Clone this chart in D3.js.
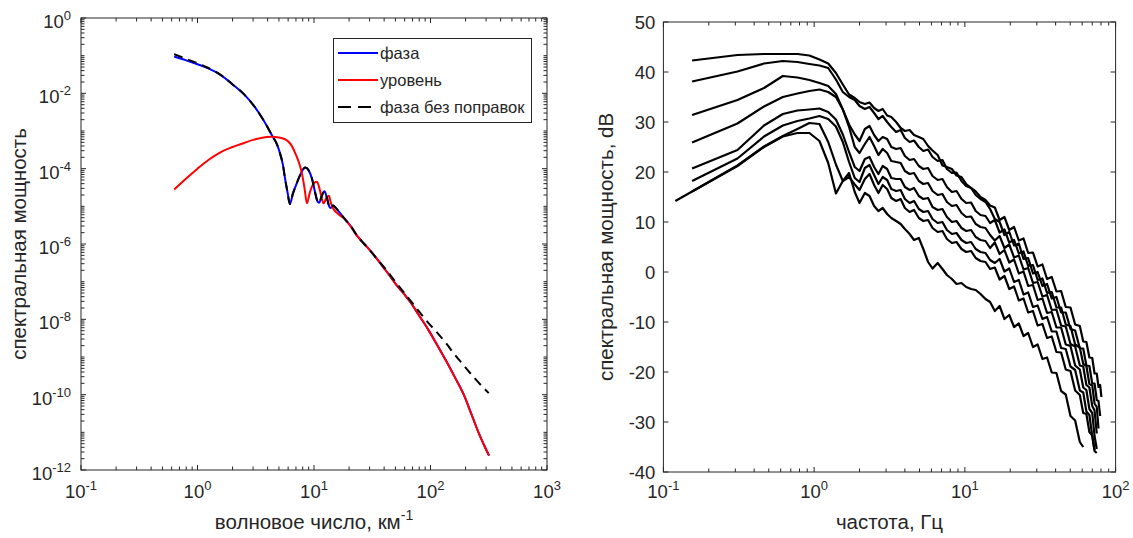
<!DOCTYPE html>
<html>
<head>
<meta charset="utf-8">
<script src="https://cdn.jsdelivr.net/npm/d3@7"></script>
<style>
  body { margin: 0; background: #fff; }
  text { font-family: "Liberation Sans", Arial, Helvetica, sans-serif; fill: #262626; }
</style>
</head>
<body>
<svg id="chart" width="1133" height="538"></svg>
<script>
// ---------------- LEFT PANEL DATA ----------------
const kPhase = [0.63, 0.8, 1.0, 1.24, 1.6, 1.97, 2.5, 3.11, 3.7, 4.43, 4.8, 5.1, 5.4, 5.64, 5.95, 6.2, 6.6, 7.2, 7.8, 8.4, 9.0, 9.6, 10.2, 10.8, 11.1, 11.6, 12.3, 12.9, 13.5, 13.9, 14.6, 15.4, 16.5, 18.5, 21, 23.3, 27, 30, 35.5, 42, 50.5, 60, 67, 80, 95, 115, 135, 160, 193, 225, 258, 290, 318];
const pPhase = [9.5e-2, 7.5e-2, 5.9e-2, 4.6e-2, 3.0e-2, 1.8e-2, 9.5e-3, 4.3e-3, 1.9e-3, 7e-4, 4.5e-4, 2.6e-4, 1.3e-4, 5.5e-5, 2.2e-5, 1.15e-5, 2.2e-5, 4.5e-5, 8e-5, 1.07e-4, 9e-5, 5.5e-5, 2.4e-5, 1.3e-5, 1.25e-5, 1.8e-5, 2.5e-5, 1.7e-5, 1.0e-5, 9e-6, 1.05e-5, 9e-6, 7e-6, 4.5e-6, 2.8e-6, 1.7e-6, 1.0e-6, 7e-7, 3.7e-7, 1.86e-7, 8.5e-8, 4.5e-8, 2.9e-8, 1.25e-8, 5.5e-9, 2e-9, 8.3e-10, 3.1e-10, 1.0e-10, 3e-11, 1.0e-11, 4.4e-12, 2.4e-12];

const kLevel = [0.63, 0.8, 1.0, 1.24, 1.6, 1.97, 2.5, 3.0, 3.5, 4.3, 5.0, 5.67, 6.3, 6.9, 7.4, 7.87, 8.3, 8.69, 9.2, 9.9, 10.6, 11.3, 12.05, 12.7, 13.4, 14.0, 14.7, 15.9, 18.5, 23.3, 30, 35.5, 42, 50.5, 60, 67, 80, 95, 115, 135, 160, 193, 225, 258, 290, 318];
const pLevel = [2.8e-5, 5.5e-5, 1.0e-4, 1.7e-4, 2.8e-4, 3.7e-4, 4.8e-4, 5.8e-4, 6.5e-4, 7.0e-4, 6.7e-4, 6.0e-4, 4.5e-4, 2.6e-4, 1.5e-4, 7.6e-5, 3e-5, 1.2e-5, 2.3e-5, 4.0e-5, 4.5e-5, 2.5e-5, 1.2e-5, 1.6e-5, 1.9e-5, 1.2e-5, 8.5e-6, 6.5e-6, 4.5e-6, 1.7e-6, 7e-7, 3.7e-7, 1.86e-7, 8.5e-8, 4.5e-8, 2.9e-8, 1.25e-8, 5.5e-9, 2e-9, 8.3e-10, 3.1e-10, 1.0e-10, 3e-11, 1.0e-11, 4.4e-12, 2.4e-12];

const kRaw = [0.63, 0.8, 1.0, 1.24, 1.6, 1.97, 2.5, 3.11, 3.7, 4.43, 4.8, 5.1, 5.4, 5.64, 5.95, 6.2, 6.6, 7.2, 7.8, 8.4, 9.0, 9.6, 10.2, 10.8, 11.1, 11.6, 12.3, 12.9, 13.5, 13.9, 14.6, 15.4, 16.5, 18.5, 21, 23.3, 27, 30, 35.5, 42, 50.5, 60, 67, 80, 95, 115, 135, 160, 193, 240, 316];
const pRaw = [1.1e-1, 8.2e-2, 6.3e-2, 4.7e-2, 3.0e-2, 1.8e-2, 9.5e-3, 4.3e-3, 1.9e-3, 7e-4, 4.5e-4, 2.6e-4, 1.3e-4, 5.5e-5, 2.2e-5, 1.15e-5, 2.2e-5, 4.5e-5, 8e-5, 1.07e-4, 9e-5, 5.5e-5, 2.4e-5, 1.3e-5, 1.25e-5, 1.8e-5, 2.5e-5, 1.7e-5, 1.0e-5, 9e-6, 1.05e-5, 9e-6, 7e-6, 4.5e-6, 2.8e-6, 1.7e-6, 1.0e-6, 7e-7, 3.7e-7, 2.0e-7, 9.5e-8, 4.9e-8, 3.2e-8, 1.6e-8, 8.3e-9, 4.3e-9, 2.4e-9, 1.2e-9, 6e-10, 2.7e-10, 1.1e-10];

const legendLabels = ["фаза", "уровень", "фаза без поправок"];
const leftYTickExp = [0, -2, -4, -6, -8, -10, -12];
const leftXTickExp = [-1, 0, 1, 2, 3];

// ---------------- RIGHT PANEL DATA ----------------
const freq = [0.12, 0.155, 0.31, 0.465, 0.62, 0.775, 0.93, 1.085, 1.24, 1.395, 1.55, 1.705, 1.86,
  2.0, 2.17, 2.33, 2.5, 2.67, 2.85, 3.05, 3.25, 3.5, 3.75, 4.0, 4.3, 4.6, 4.95, 5.3, 5.7, 6.1, 6.6, 7.1, 7.6, 8.2, 8.8, 9.5, 10.2, 11, 11.8, 12.7, 13.7, 14.7,
  15.8, 17, 18.3, 19.7, 21.2, 22.8, 24.5, 26.3, 28.3, 30.4, 32.7, 35.1, 37.7, 40.5, 43.5, 46.7, 50.2, 53.9, 57.9, 61, 64, 67, 70, 72.5, 75, 77, 79, 80.5];

const db1 = [null, 42.3, 43.4, 43.6, 43.6, 43.6, 43.3, 42.5, 41.7, 39.8, 37.5, 35.5, 34.8,
  34.0, 33.6, 33.9, 32.8, 32.2, 32.6, 31.3, 31.0, 30.0, 28.8, 28.2, 28.4, 27.4, 27.0, 26.6, 25.2, 24.3, 23.4, 21.3, 21.0, 20.6, 19.3, 19.0, 17.6, 16.8, 16.1, 15.0, 14.4, 13.3,
  12.9, 10.4, 11.0, 8.4, 9.0, 6.3, 6.7, 3.8, 3.9, 1.1, 1.5, -1.4, -1.0, -3.9, -3.8, -7.0, -7.1, -10.5, -10.8, -13.9, -14.0, -17.1, -17.2, -20.3, -20.3, -23.0, -22.6, -25.0];
const db2 = [null, 38.1, 40.1, 41.7, 42.2, 42.0, 41.6, 41.3, 40.8, 38.5, 36.0, 35.0, 34.4,
  33.2, 32.6, 33.0, 31.8, 30.6, 31.2, 30.0, 29.0, 28.0, 28.4, 26.8, 26.0, 26.3, 25.0, 24.2, 24.5, 23.0, 22.2, 22.4, 20.6, 19.8, 19.9, 18.2, 17.2, 16.8, 15.4, 14.6, 14.0, 12.6,
  10.6, 10.0, 7.4, 8.0, 5.3, 5.7, 2.6, 2.8, -0.3, 0.0, -2.8, -2.4, -5.3, -5.0, -8.1, -8.1, -11.4, -11.7, -15.3, -15.3, -18.7, -18.8, -22.3, -22.3, -25.6, -25.8, -28.8, null];
const db3 = [null, 31.4, 34.4, 36.8, 39.2, 38.9, 38.4, 37.8, 37.2, 35.6, 32.5, 29.5, 27.5,
  26.2, 28.6, 29.2, 27.4, 26.2, 27.0, 26.6, 25.0, 24.6, 24.8, 23.2, 22.4, 22.6, 21.2, 20.6, 20.8, 19.2, 18.4, 18.6, 17.0, 16.0, 16.2, 14.6, 13.8, 13.9, 12.2, 11.4, 11.2, 9.8,
  10.4, 7.9, 8.5, 5.9, 6.4, 3.7, 4.1, 1.2, 1.4, -1.6, -1.3, -4.2, -4.0, -7.1, -7.1, -10.5, -10.8, -14.5, -15.1, -18.4, -18.8, -22.4, -22.7, -26.3, -27.0, -31.3, null, null];
const db4 = [null, 25.9, 29.7, 33.1, 35.0, 35.7, 36.2, 36.5, 36.0, 35.0, 32.5, 29.0, 25.0,
  23.8, 25.6, 27.0, 25.2, 23.4, 24.6, 23.8, 22.2, 22.0, 21.8, 20.2, 19.6, 19.8, 18.2, 17.6, 17.8, 16.2, 15.4, 15.6, 14.0, 13.2, 13.4, 11.8, 11.0, 11.1, 9.6, 9.0, 8.8, 7.4,
  6.3, 7.2, 4.8, 5.5, 2.9, 3.3, 0.5, 0.8, -2.2, -2.0, -4.9, -4.6, -7.6, -7.5, -10.7, -10.9, -14.4, -14.9, -18.7, -18.9, -22.6, -23.1, -26.8, -27.7, -32.3, null, null, null];
const db5 = [null, 20.7, 24.4, 29.3, 31.6, 32.3, 32.5, 32.7, 32.0, 30.5, 27.5, 24.0, 21.0,
  20.2, 22.6, 23.0, 21.0, 19.6, 21.2, 20.6, 18.8, 18.6, 18.6, 17.0, 16.4, 16.8, 15.2, 14.6, 14.8, 13.0, 12.4, 12.6, 11.0, 10.0, 10.2, 8.8, 8.2, 8.4, 7.0, 6.4, 6.2, 4.8,
  5.9, 3.6, 4.4, 1.9, 2.5, -0.3, 0.1, -2.8, -2.6, -5.6, -5.3, -8.2, -8.0, -11.1, -11.1, -14.5, -14.8, -18.7, -19.5, -23.1, -23.6, -27.4, -28.2, -32.8, -35.4, null, null, null];
const db6 = [null, 18.2, 22.7, 27.1, 29.3, 30.2, 30.7, 31.2, 30.6, 29.1, 26.0, 22.0, 18.8,
  18.0, 20.8, 21.4, 19.4, 17.6, 19.0, 18.4, 16.6, 16.2, 16.4, 14.6, 13.8, 14.2, 12.6, 12.0, 12.2, 10.6, 9.8, 10.0, 8.4, 7.6, 7.8, 6.4, 5.8, 6.0, 4.6, 4.0, 3.8, 2.4,
  1.8, 2.6, 0.1, 0.7, -2.0, -1.6, -4.5, -4.1, -7.0, -6.7, -9.4, -9.0, -11.9, -11.9, -15.2, -15.4, -18.9, -19.6, -23.7, -24.1, -27.9, -28.6, -32.8, -35.6, null, null, null, null];
const db7 = [null, 16.1, 21.3, 25.1, 27.2, 28.6, 29.8, 29.6, 26.0, 21.5, 18.2, 19.0, 17.5,
  16.4, 18.6, 19.6, 17.4, 15.8, 17.4, 16.6, 14.8, 14.2, 14.6, 12.8, 12.0, 12.4, 10.8, 10.2, 10.4, 8.8, 8.0, 8.2, 6.6, 5.8, 6.0, 4.6, 4.0, 4.2, 2.8, 2.2, 2.0, 0.6,
  0.9, -1.5, -0.8, -3.4, -2.9, -5.7, -5.3, -8.1, -7.8, -10.7, -10.4, -13.2, -12.9, -16.0, -16.1, -19.5, -19.8, -23.7, -24.6, -28.2, -28.4, -32.0, -32.7, -35.8, -36.2, null, null, null];
const db8 = [14.2, 16.1, 21.2, 25.0, 27.1, 27.8, 27.8, 26.2, 21.8, 15.7, 18.2, 19.8, 16.0,
  13.8, 15.8, 15.2, 13.2, 12.2, 12.8, 11.6, 10.8, 10.2, 9.6, 8.6, 7.6, 6.4, 6.8, 4.6, 2.0, 0.7, 1.8, 0.6, -0.6, -1.4, -2.4, -2.2, -3.0, -3.4, -3.6, -4.4, -5.4, -6.0,
  -7.8, -6.8, -9.4, -8.6, -11.0, -10.3, -12.8, -12.2, -15.0, -14.5, -17.4, -17.1, -20.1, -20.2, -23.8, -24.5, -28.8, -29.7, -34.0, -35.0, null, null, null, null, null, null, null, null];
const rightSeries = [db1, db2, db3, db4, db5, db6, db7, db8];

const rightYTicks = [50, 40, 30, 20, 10, 0, -10, -20, -30, -40];
const rightXTickExp = [-1, 0, 1, 2];

// ---------------- DRAWING ----------------
const svg = d3.select("#chart");
svg.append("rect").attr("width", 1133).attr("height", 538).attr("fill", "#fff");
const AX = "#262626";
const TICK_FS = 18.5, SUP_FS = 13, LABEL_FS = 20.5;

const L = {x0: 81, x1: 547, y0: 18, y1: 470};
const R = {x0: 663.4, x1: 1115.6, y0: 22, y1: 472};

const xL = d3.scaleLog().domain([1e-1, 1e3]).range([L.x0, L.x1]);
const yL = d3.scaleLog().domain([1e-12, 1]).range([L.y1, L.y0]);
const xR = d3.scaleLog().domain([1e-1, 1e2]).range([R.x0, R.x1]);
const yR = d3.scaleLinear().domain([-40, 50]).range([R.y1, R.y0]);

function logTicks(e0, e1) {
  const out = [];
  for (let e = e0; e < e1; e++) for (let m = 1; m < 10; m++) out.push({v: m * Math.pow(10, e), major: m === 1});
  out.push({v: Math.pow(10, e1), major: true});
  return out;
}

function powLabel(g, x, y, exp, anchor) {
  const t = g.append("text").attr("x", x).attr("y", y).attr("text-anchor", anchor).style("font-size", TICK_FS + "px");
  t.append("tspan").text("10");
  t.append("tspan").attr("dy", -8).style("font-size", SUP_FS + "px").text(String(exp));
}

function drawBox(g, B) {
  g.append("rect").attr("x", B.x0).attr("y", B.y0).attr("width", B.x1 - B.x0).attr("height", B.y1 - B.y0)
    .attr("fill", "none").attr("stroke", AX).attr("stroke-width", 1);
}

// ===== LEFT PANEL =====
const gL = svg.append("g");
const lineL = d3.line().x(d => xL(d[0])).y(d => yL(d[1])).curve(d3.curveMonotoneX);
const zip = (a, b) => a.map((v, i) => [v, b[i]]);

gL.append("path").attr("d", lineL(zip(kPhase, pPhase))).attr("fill", "none").attr("stroke", "#0000ff").attr("stroke-width", 2);
gL.append("path").attr("d", lineL(zip(kLevel, pLevel))).attr("fill", "none").attr("stroke", "#ff0000").attr("stroke-width", 2);
gL.append("path").attr("d", lineL(zip(kRaw, pRaw))).attr("fill", "none").attr("stroke", "#000").attr("stroke-width", 2).attr("stroke-dasharray", "9,6");

// ticks left
const tL = gL.append("g").attr("stroke", AX).attr("stroke-width", 1);
logTicks(-1, 3).forEach(t => {
  const x = xL(t.v), len = t.major ? 5 : 3.5;
  tL.append("line").attr("x1", x).attr("x2", x).attr("y1", L.y1).attr("y2", L.y1 - len);
  tL.append("line").attr("x1", x).attr("x2", x).attr("y1", L.y0).attr("y2", L.y0 + len);
});
logTicks(-12, 0).forEach(t => {
  const y = yL(t.v);
  const major = t.major && leftYTickExp.includes(Math.round(Math.log10(t.v)));
  const len = major ? 5 : 3.5;
  tL.append("line").attr("x1", L.x0).attr("x2", L.x0 + len).attr("y1", y).attr("y2", y);
  tL.append("line").attr("x1", L.x1).attr("x2", L.x1 - len).attr("y1", y).attr("y2", y);
});
drawBox(gL, L);
leftYTickExp.forEach(e => powLabel(gL, L.x0 - 10, yL(Math.pow(10, e)) + 10, e, "end"));
leftXTickExp.forEach(e => powLabel(gL, xL(Math.pow(10, e)), 498, e, "middle"));

// axis labels left
const xlabL = gL.append("text").attr("x", (L.x0 + L.x1) / 2).attr("y", 529).attr("text-anchor", "middle").style("font-size", LABEL_FS + "px");
xlabL.append("tspan").text("волновое число, км");
xlabL.append("tspan").attr("dy", -9).style("font-size", "14px").text("-1");
gL.append("text").attr("transform", `translate(26,${(L.y0 + L.y1) / 2}) rotate(-90)`).attr("text-anchor", "middle")
  .style("font-size", LABEL_FS + "px").text("спектральная мощность");

// legend
const lg = gL.append("g");
lg.append("rect").attr("x", 333.5).attr("y", 38.5).attr("width", 198).attr("height", 84).attr("fill", "#fff").attr("stroke", AX).attr("stroke-width", 1);
const legColors = ["#0000ff", "#ff0000", "#000"];
const legY = [53, 80, 107];
legendLabels.forEach((lab, i) => {
  const ln = lg.append("line").attr("x1", 338).attr("x2", 378).attr("y1", legY[i]).attr("y2", legY[i]).attr("stroke", legColors[i]).attr("stroke-width", 2);
  if (i === 2) ln.attr("stroke-dasharray", "13,7");
  lg.append("text").attr("x", 380).attr("y", legY[i] + 6).style("font-size", "16.5px").text(lab);
});

// ===== RIGHT PANEL =====
const gR = svg.append("g");
const lineR = d3.line().defined(d => d[1] != null).x(d => xR(d[0])).y(d => yR(d[1]));
rightSeries.forEach(s => {
  gR.append("path").attr("d", lineR(zip(freq, s))).attr("fill", "none").attr("stroke", "#000")
    .attr("stroke-width", 2.2).attr("stroke-linejoin", "round");
});
const tR = gR.append("g").attr("stroke", AX).attr("stroke-width", 1);
logTicks(-1, 2).forEach(t => {
  const x = xR(t.v), len = t.major ? 5 : 3.5;
  tR.append("line").attr("x1", x).attr("x2", x).attr("y1", R.y1).attr("y2", R.y1 - len);
  tR.append("line").attr("x1", x).attr("x2", x).attr("y1", R.y0).attr("y2", R.y0 + len);
});
rightYTicks.forEach(v => {
  const y = yR(v);
  tR.append("line").attr("x1", R.x0).attr("x2", R.x0 + 5).attr("y1", y).attr("y2", y);
  tR.append("line").attr("x1", R.x1).attr("x2", R.x1 - 5).attr("y1", y).attr("y2", y);
  gR.append("text").attr("x", R.x0 - 8).attr("y", y + 6.5).attr("text-anchor", "end").style("font-size", TICK_FS + "px").text(String(v));
});
drawBox(gR, R);
rightXTickExp.forEach(e => powLabel(gR, xR(Math.pow(10, e)), 498, e, "middle"));
gR.append("text").attr("x", (R.x0 + R.x1) / 2).attr("y", 529).attr("text-anchor", "middle").style("font-size", LABEL_FS + "px").text("частота, Гц");
gR.append("text").attr("transform", `translate(613,${(R.y0 + R.y1) / 2}) rotate(-90)`).attr("text-anchor", "middle")
  .style("font-size", LABEL_FS + "px").text("спектральная мощность, dB");
</script>
</body>
</html>
